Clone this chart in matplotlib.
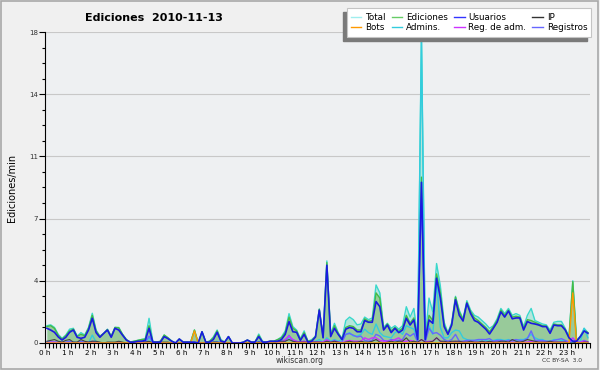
import numpy as np
import matplotlib
matplotlib.use("Agg")
import matplotlib.pyplot as plt
from matplotlib.lines import Line2D
from matplotlib.patches import Rectangle
from matplotlib.ticker import MultipleLocator

# 10-minute bins, one row per hour
total = [
    1.0, 1.05, 0.9, 0.5, 0.27, 0.46,
    0.8, 0.85, 0.4, 0.6, 0.46, 0.9,
    1.72, 0.75, 0.4, 0.55, 0.8, 0.4,
    0.9, 0.9, 0.5, 0.2, 0.05, 0.1,
    0.15, 0.2, 0.25, 1.43, 0.1, 0.05,
    0.1, 0.46, 0.3, 0.12, 0.0, 0.23,
    0.05, 0.05, 0.05, 0.75, 0.0, 0.65,
    0.05, 0.1, 0.35, 0.75, 0.2, 0.05,
    0.37, 0.0, 0.0, 0.0, 0.05, 0.17,
    0.05, 0.05, 0.52, 0.1, 0.05, 0.1,
    0.1, 0.2, 0.35, 0.7, 1.7, 0.95,
    0.75, 0.25, 0.7, 0.1, 0.2, 0.4,
    1.97, 0.35, 4.75, 0.5, 1.14, 0.6,
    0.25, 1.3, 1.5, 1.35, 1.05, 1.1,
    1.5, 1.35, 1.45, 3.36, 2.9, 0.9,
    1.14, 0.85, 1.0, 0.8, 1.0, 2.1,
    1.5, 2.0, 0.3, 18.0, 0.3, 2.6,
    1.8, 4.6, 3.3, 1.2, 0.6, 1.2,
    2.7, 1.9, 1.4, 2.45, 1.9, 1.6,
    1.5, 1.3, 1.1, 0.85, 1.0, 1.4,
    2.0, 1.7, 2.0, 1.6, 1.7, 1.6,
    0.95, 1.6, 2.0, 1.3, 1.2, 1.1,
    1.05, 0.75, 1.2, 1.25, 1.25, 0.85,
    0.35, 3.6, 0.15, 0.4, 0.85, 0.6,
]
ediciones = [
    0.95, 1.0, 0.85, 0.45, 0.22, 0.42,
    0.7, 0.8, 0.38, 0.5, 0.42, 0.85,
    1.6, 0.7, 0.38, 0.55, 0.78, 0.38,
    0.9, 0.88, 0.5, 0.2, 0.05, 0.1,
    0.15, 0.2, 0.22, 1.0, 0.05, 0.05,
    0.1, 0.46, 0.3, 0.1, 0.0, 0.23,
    0.05, 0.05, 0.05, 0.75, 0.0, 0.65,
    0.05, 0.1, 0.3, 0.7, 0.15, 0.05,
    0.37, 0.0, 0.0, 0.0, 0.05, 0.17,
    0.05, 0.05, 0.45, 0.05, 0.05, 0.1,
    0.1, 0.2, 0.3, 0.6, 1.5, 0.85,
    0.7, 0.2, 0.6, 0.1, 0.15, 0.38,
    1.95, 0.32, 4.65, 0.45, 1.0, 0.55,
    0.22, 0.9, 1.0, 0.95, 0.75, 0.75,
    1.4, 1.25, 1.3, 2.9, 2.6, 0.8,
    1.1, 0.7, 0.9, 0.7, 0.85, 1.6,
    1.15, 1.45, 0.25, 9.6, 0.25, 1.6,
    1.3, 4.0, 2.9, 1.05, 0.55, 1.1,
    2.65, 1.8, 1.35, 2.35, 1.8, 1.45,
    1.3, 1.1, 0.9, 0.65, 0.95, 1.3,
    1.9, 1.6, 1.9, 1.5, 1.55, 1.5,
    0.85, 1.35, 1.3, 1.2, 1.1, 1.0,
    0.98, 0.65, 1.1, 1.05, 1.05, 0.8,
    0.32, 3.55, 0.1, 0.38, 0.75, 0.6,
]
usuarios = [
    0.85, 0.75, 0.62, 0.35, 0.17, 0.33,
    0.62, 0.75, 0.33, 0.27, 0.33, 0.75,
    1.43, 0.6, 0.33, 0.55, 0.75, 0.33,
    0.85, 0.75, 0.45, 0.17, 0.05, 0.05,
    0.1, 0.1, 0.15, 0.85, 0.05, 0.05,
    0.05, 0.37, 0.25, 0.1, 0.0, 0.23,
    0.05, 0.05, 0.05, 0.05, 0.0, 0.65,
    0.05, 0.05, 0.2, 0.62, 0.1, 0.05,
    0.37, 0.0, 0.0, 0.0, 0.05, 0.17,
    0.05, 0.05, 0.37, 0.05, 0.05, 0.1,
    0.1, 0.1, 0.2, 0.5, 1.24, 0.65,
    0.62, 0.15, 0.5, 0.05, 0.1, 0.35,
    1.9, 0.3, 4.5, 0.37, 0.85, 0.5,
    0.2, 0.8, 0.9, 0.85, 0.65, 0.65,
    1.3, 1.2, 1.2, 2.4, 2.1, 0.75,
    1.04, 0.6, 0.85, 0.6, 0.75, 1.43,
    1.04, 1.33, 0.2, 9.3, 0.2, 1.33,
    1.14, 3.75, 2.6, 0.95, 0.5, 1.04,
    2.5, 1.6, 1.27, 2.3, 1.7, 1.3,
    1.2, 1.0, 0.8, 0.52, 0.85, 1.2,
    1.8, 1.5, 1.85, 1.4, 1.45, 1.45,
    0.75, 1.24, 1.14, 1.1, 1.04, 0.95,
    0.95, 0.56, 1.04, 1.0, 1.0, 0.75,
    0.3, 0.1, 0.1, 0.37, 0.7, 0.56,
]
ip = [
    0.1, 0.15, 0.2, 0.1, 0.05, 0.15,
    0.2, 0.05, 0.05, 0.2, 0.1, 0.05,
    0.1, 0.1, 0.05, 0.0, 0.05, 0.05,
    0.05, 0.1, 0.05, 0.0, 0.0, 0.05,
    0.05, 0.1, 0.05, 0.1, 0.0, 0.0,
    0.05, 0.05, 0.05, 0.0, 0.0, 0.0,
    0.0, 0.0, 0.0, 0.0, 0.0, 0.0,
    0.0, 0.0, 0.05, 0.05, 0.0, 0.0,
    0.0, 0.0, 0.0, 0.0, 0.0, 0.0,
    0.0, 0.0, 0.05, 0.0, 0.0, 0.0,
    0.0, 0.1, 0.1, 0.1, 0.2, 0.1,
    0.05, 0.05, 0.05, 0.05, 0.05, 0.05,
    0.05, 0.02, 0.1, 0.05, 0.1, 0.05,
    0.0, 0.05, 0.1, 0.05, 0.05, 0.1,
    0.05, 0.05, 0.1, 0.2, 0.05, 0.0,
    0.05, 0.1, 0.05, 0.1, 0.1, 0.3,
    0.05, 0.1, 0.05, 0.2, 0.05, 0.05,
    0.1, 0.3, 0.1, 0.1, 0.05, 0.1,
    0.1, 0.1, 0.05, 0.05, 0.1, 0.05,
    0.05, 0.1, 0.05, 0.1, 0.05, 0.05,
    0.1, 0.1, 0.05, 0.2, 0.1, 0.05,
    0.1, 0.2, 0.15, 0.1, 0.05, 0.05,
    0.05, 0.1, 0.05, 0.05, 0.05, 0.05,
    0.0, 0.0, 0.05, 0.0, 0.05, 0.05,
]
bots = [0.0] * 39 + [0.7] + [0.0] * 99 + [2.9] + [0.0] * 4
admins = [
    0.05, 0.05, 0.05, 0.0, 0.0, 0.0,
    0.05, 0.05, 0.0, 0.05, 0.0, 0.0,
    0.46, 0.05, 0.0, 0.0, 0.0, 0.0,
    0.0, 0.0, 0.0, 0.0, 0.0, 0.0,
    0.0, 0.0, 0.0, 0.3, 0.0, 0.0,
    0.0, 0.0, 0.0, 0.0, 0.0, 0.0,
    0.0, 0.0, 0.0, 0.0, 0.0, 0.0,
    0.0, 0.0, 0.05, 0.1, 0.0, 0.0,
    0.0, 0.0, 0.0, 0.0, 0.0, 0.0,
    0.0, 0.0, 0.1, 0.0, 0.0, 0.0,
    0.0, 0.05, 0.1, 0.2, 0.3, 0.2,
    0.1, 0.05, 0.1, 0.0, 0.05, 0.1,
    0.2, 0.05, 0.3, 0.1, 0.2, 0.1,
    0.2, 0.5, 0.6, 0.4, 0.4, 0.5,
    0.8, 0.6, 0.5, 1.1, 0.6, 0.4,
    0.35, 0.3, 0.6, 0.7, 0.5, 1.0,
    0.9, 0.8, 0.1, 17.5, 0.1, 1.0,
    0.5, 3.5, 0.9, 0.3, 0.3, 0.6,
    0.75, 0.7, 0.3, 0.2, 0.15, 0.15,
    0.15, 0.2, 0.15, 0.1, 0.15, 0.2,
    0.2, 0.15, 0.2, 0.1, 0.15, 0.2,
    0.2, 0.3, 0.5, 0.3, 0.2, 0.2,
    0.1, 0.1, 0.2, 0.2, 0.15, 0.1,
    0.05, 0.05, 0.05, 0.1, 0.85, 0.3,
]
reg_adm = [
    0.0, 0.05, 0.05, 0.0, 0.0, 0.0,
    0.0, 0.0, 0.0, 0.0, 0.0, 0.0,
    0.05, 0.0, 0.0, 0.0, 0.0, 0.0,
    0.0, 0.0, 0.0, 0.0, 0.0, 0.0,
    0.0, 0.0, 0.0, 0.0, 0.0, 0.0,
    0.0, 0.0, 0.0, 0.0, 0.0, 0.0,
    0.0, 0.0, 0.0, 0.0, 0.0, 0.0,
    0.0, 0.0, 0.0, 0.0, 0.0, 0.0,
    0.0, 0.0, 0.0, 0.0, 0.0, 0.0,
    0.0, 0.0, 0.0, 0.0, 0.0, 0.0,
    0.0, 0.0, 0.05, 0.2, 0.4, 0.2,
    0.1, 0.05, 0.1, 0.0, 0.05, 0.05,
    0.05, 0.05, 0.2, 0.05, 0.1, 0.05,
    0.0, 0.1, 0.15, 0.1, 0.1, 0.1,
    0.3, 0.2, 0.3, 0.3, 0.15, 0.1,
    0.1, 0.1, 0.2, 0.3, 0.1, 0.1,
    0.15, 0.1, 0.0, 0.2, 0.05, 0.1,
    0.1, 0.3, 0.1, 0.05, 0.05, 0.05,
    0.1, 0.05, 0.05, 0.05, 0.05, 0.05,
    0.05, 0.05, 0.05, 0.05, 0.05, 0.05,
    0.05, 0.05, 0.05, 0.05, 0.05, 0.05,
    0.05, 0.05, 0.1, 0.05, 0.05, 0.05,
    0.05, 0.05, 0.05, 0.05, 0.05, 0.05,
    0.05, 0.3, 0.05, 0.05, 0.1, 0.05,
]
registros = [
    0.05, 0.05, 0.05, 0.05, 0.05, 0.05,
    0.1, 0.05, 0.02, 0.1, 0.05, 0.05,
    0.1, 0.05, 0.02, 0.0, 0.02, 0.02,
    0.0, 0.02, 0.0, 0.0, 0.0, 0.0,
    0.0, 0.0, 0.03, 0.4, 0.05, 0.0,
    0.0, 0.0, 0.0, 0.02, 0.0, 0.0,
    0.0, 0.0, 0.0, 0.0, 0.0, 0.0,
    0.0, 0.0, 0.05, 0.05, 0.05, 0.0,
    0.0, 0.0, 0.0, 0.0, 0.0, 0.0,
    0.0, 0.0, 0.07, 0.05, 0.0, 0.0,
    0.0, 0.0, 0.05, 0.1, 0.45, 0.1,
    0.05, 0.05, 0.1, 0.0, 0.05, 0.05,
    0.05, 0.05, 0.1, 0.05, 0.15, 0.05,
    0.05, 0.5, 0.55, 0.45, 0.35, 0.4,
    0.15, 0.1, 0.15, 0.5, 0.4, 0.15,
    0.1, 0.2, 0.15, 0.15, 0.2, 0.55,
    0.4, 0.55, 0.05, 8.4, 0.05, 0.85,
    0.55, 0.6, 0.45, 0.2, 0.1, 0.2,
    0.5, 0.1, 0.1, 0.15, 0.15, 0.15,
    0.2, 0.2, 0.2, 0.25, 0.1, 0.15,
    0.15, 0.1, 0.15, 0.15, 0.2, 0.15,
    0.15, 0.25, 0.7, 0.15, 0.15, 0.15,
    0.1, 0.1, 0.15, 0.2, 0.25, 0.15,
    0.05, 0.1, 0.05, 0.05, 0.15, 0.05,
]

hour_labels = [f"{h} h" for h in range(24)]
ytick_labels = ["0", "4", "7", "11", "14", "18"]
ymax = 18

# time stamps: centre of each 10-min bin, in hours
hours = (np.arange(len(total)) + 0.5) / 6

W, H = 600, 370
fig = plt.figure(figsize=(6, 3.7), dpi=100, facecolor="#f0f0f0")
fig.patches.append(Rectangle((0.002, 0.003), 0.995, 0.994, transform=fig.transFigure,
                             fill=False, edgecolor="#a8a8a8", lw=1.2))
ax = fig.add_axes([0.075, 0.073, 0.908, 0.8405])
ax.set_facecolor("#eef0f2")

ax.fill_between(hours, total, color="#b4e6dc", lw=0, zorder=1)
ax.fill_between(hours, ediciones, color="#98ca9a", lw=0, zorder=2)

ax.plot(hours, total, color="#3ad8cc", lw=1.0, zorder=3)
ax.plot(hours, ediciones, color="#44bb44", lw=1.0, zorder=3)
ax.plot(hours, admins, color="#33ccdd", lw=1.0, zorder=4)
ax.plot(hours, registros, color="#6666ff", lw=1.0, zorder=4)
ax.plot(hours, reg_adm, color="#cc33ff", lw=1.0, zorder=4)
ax.plot(hours, ip, color="#444444", lw=0.8, zorder=4)
ax.plot(hours, bots, color="#ff9900", lw=1.0, zorder=5)
ax.plot(hours, usuarios, color="#1a1ae0", lw=1.2, zorder=6)

ax.set_xlim(0, 24)
ax.set_ylim(0, ymax)
ax.set_xticks(range(24))
ax.set_xticklabels(hour_labels, fontsize=5.2)
ax.xaxis.set_minor_locator(MultipleLocator(1 / 6))
yt = np.linspace(0, ymax, len(ytick_labels))
ax.set_yticks(yt)
ax.set_yticklabels(ytick_labels, fontsize=5, color="#333333")
ax.yaxis.set_minor_locator(MultipleLocator(ymax / 20))
ax.tick_params(axis="x", which="both", direction="out", length=3.5, width=0.8, pad=1.5)
ax.tick_params(axis="y", which="major", direction="out", length=4, width=0.8, pad=1)
ax.tick_params(axis="y", which="minor", direction="out", length=2.5, width=0.8)
ax.grid(axis="y", color="#c8c8c8", lw=0.8)
ax.set_axisbelow(True)
for s in ["top", "right"]:
    ax.spines[s].set_visible(False)

fig.text(0.02, 0.493, "Ediciones/min", rotation=90, fontsize=7, ha="center", va="center")
fig.text(0.257, 0.951, "Ediciones  2010-11-13", fontsize=8, fontweight="bold", ha="center", va="center")
fig.text(0.5, 0.025, "wikiscan.org", fontsize=5.5, ha="center", va="center", color="#333333")
fig.text(0.937, 0.025, "CC BY-SA  3.0", fontsize=4.3, ha="center", va="center", color="#333333")

# legend box with its shadow (down-left), drawn by hand
box_w, box_h = 244 / W, 29 / H
box_x, box_y = 347 / W, 1 - 37 / H
fig.patches.append(Rectangle((box_x - 4 / W, box_y - 4 / H), box_w, box_h,
                             transform=fig.transFigure, color="#7a7a7a", zorder=8))
fig.patches.append(Rectangle((box_x, box_y), box_w, box_h, transform=fig.transFigure,
                             facecolor="white", edgecolor="#c4c4c4", lw=0.8, zorder=9))

names = ["Total", "Bots", "Ediciones", "Admins.", "Usuarios", "Reg. de adm.", "IP", "Registros"]
colors = ["#a0eeee", "#ff9900", "#66cc66", "#33ccdd", "#3333ff", "#cc33ff", "#333333", "#6666ff"]
handles = [Line2D([], [], color=c, lw=1.0) for c in colors]
leg = fig.legend(handles, names, ncol=4, loc="center",
                 bbox_to_anchor=(box_x + box_w / 2, box_y + box_h / 2),
                 fontsize=6.3, frameon=False,
                 handlelength=1.2, handletextpad=0.45, columnspacing=0.7,
                 labelspacing=0.05, borderpad=0.0, borderaxespad=0)
leg.set_zorder(10)

fig.savefig("out.png", dpi=100, facecolor=fig.get_facecolor())
